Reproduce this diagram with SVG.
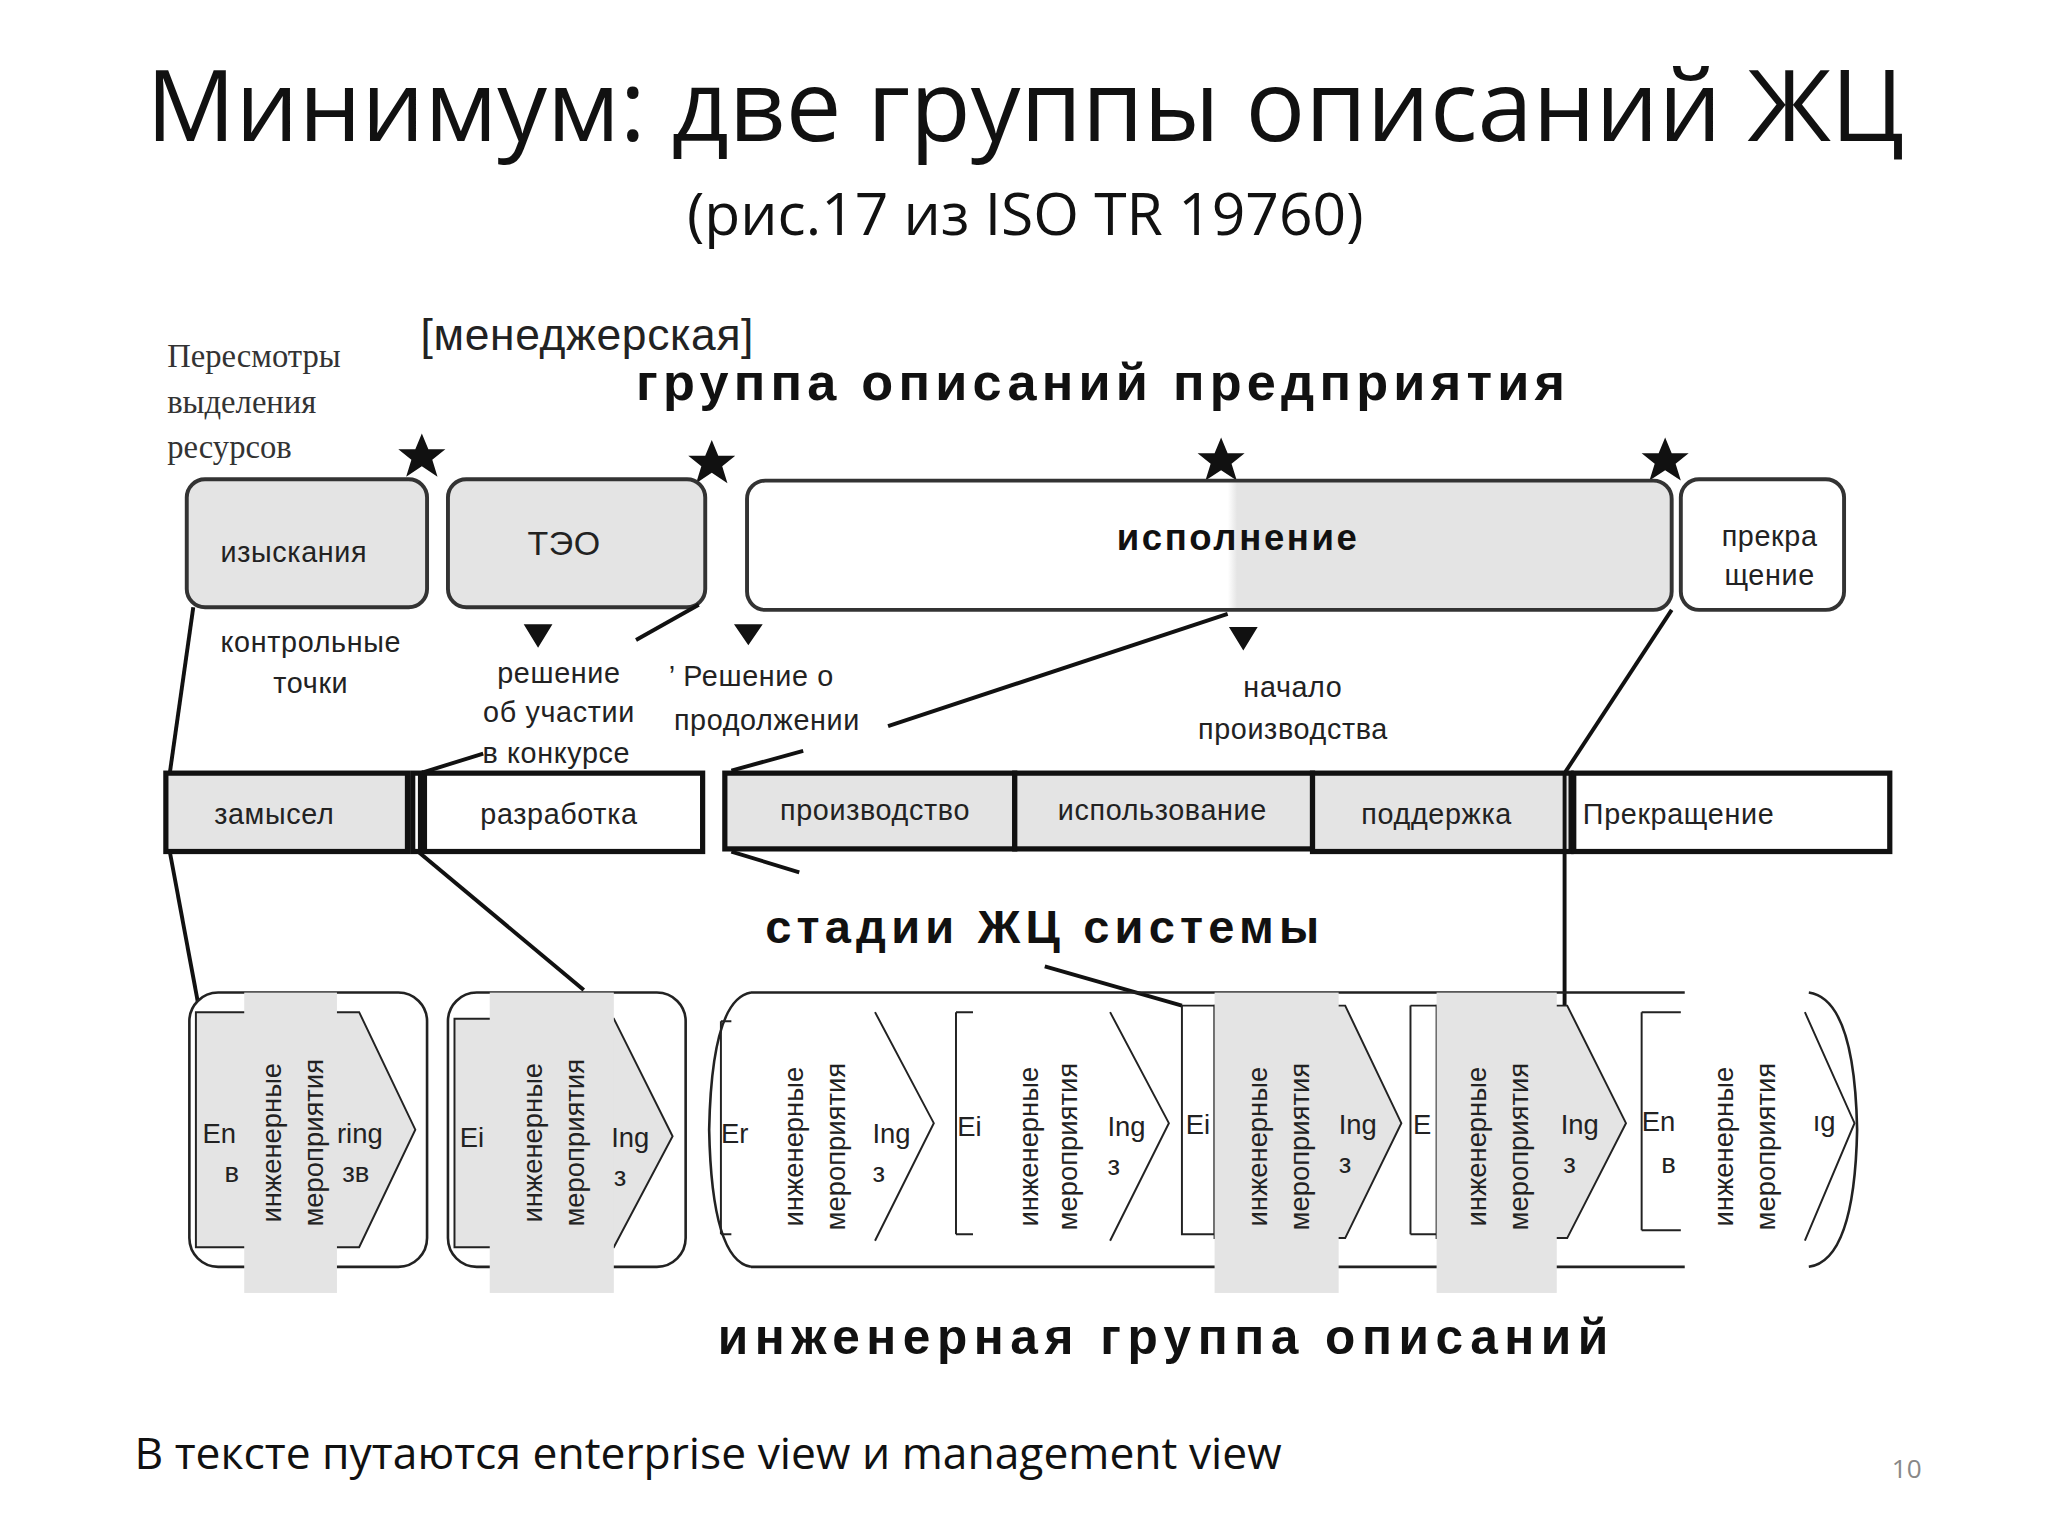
<svg xmlns="http://www.w3.org/2000/svg" width="2048" height="1536" viewBox="0 0 2048 1536">
<style>
.t{font-family:"Liberation Sans",Arial,sans-serif;fill:#222;letter-spacing:0.5px}
.b{font-family:"Liberation Sans",Arial,sans-serif;font-weight:bold;fill:#111}
.s{font-size:22px}
.box{stroke:#333;stroke-width:3}
.st{stroke:#111;stroke-width:4}
.ln{stroke:#111;stroke-width:3;fill:none}
.ch{stroke:#222;stroke-width:1.5}
.v{font-family:"Liberation Sans",Arial,sans-serif;font-size:21px;fill:#222}
</style>
<defs>
<path id="star" d="M0,-18 L5,-6 L18,-6 L8,2 L12,15 L0,7 L-12,15 L-8,2 L-18,-6 L-5,-6 Z" fill="#111"/>
<linearGradient id="g" x1="0" x2="1"><stop offset="0" stop-color="#fff"/><stop offset="0.52" stop-color="#fff"/><stop offset="0.53" stop-color="#e4e4e4"/><stop offset="1" stop-color="#e4e4e4"/></linearGradient>
</defs>
<rect width="2048" height="1536" fill="#fff"/>
<g transform="scale(1.306)">
<g id="title">
<text x="785" y="108" text-anchor="middle" font-family="Open Sans,Liberation Sans,sans-serif" font-size="76" fill="#111">Минимум: две группы описаний ЖЦ</text>
<text x="785" y="180" text-anchor="middle" font-family="Open Sans,Liberation Sans,sans-serif" font-size="45" fill="#111">(рис.17 из ISO TR 19760)</text>
</g>
<g id="headers">
<text class="t" x="322" y="268" font-size="34">[менеджерская]</text>
<text class="b" x="487" y="306" font-size="40" letter-spacing="4">группа описаний  предприятия</text>
<text x="128" y="281" font-family="Liberation Serif,serif" font-size="25" fill="#333">Пересмотры</text>
<text x="128" y="316" font-family="Liberation Serif,serif" font-size="25" fill="#333">выделения</text>
<text x="128" y="351" font-family="Liberation Serif,serif" font-size="25" fill="#333">ресурсов</text>
<use href="#star" x="323" y="350"/><use href="#star" x="545" y="355"/><use href="#star" x="935" y="353"/><use href="#star" x="1275" y="353"/>
</g>
<g id="n-izysk"><rect class="box" x="143" y="367" width="184" height="98" rx="14" fill="#e4e4e4"/><text class="t s" x="225" y="430" text-anchor="middle">изыскания</text></g>
<g id="n-teo"><rect class="box" x="343" y="367" width="197" height="98" rx="14" fill="#e4e4e4"/><text class="t" x="432" y="425" font-size="26" text-anchor="middle">ТЭО</text></g>
<g id="n-isp"><rect class="box" x="572" y="368" width="708" height="99" rx="14" fill="url(#g)"/><text class="b" x="948" y="421" font-size="28" letter-spacing="2" text-anchor="middle">исполнение</text></g>
<g id="n-prek"><rect class="box" x="1287" y="367" width="125" height="100" rx="14" fill="#fff"/><text class="t s" x="1355" y="418" text-anchor="middle">прекра</text><text class="t s" x="1355" y="448" text-anchor="middle">щение</text></g>
<g id="labels">
<text class="t s" x="238" y="499" text-anchor="middle">контрольные</text>
<text class="t s" x="238" y="531" text-anchor="middle">точки</text>
<path d="M401,478 L423,478 L412,496 Z M562,478 L584,478 L573,494 Z M941,480 L963,480 L952,498 Z" fill="#111"/>
<text class="t s" x="428" y="523" text-anchor="middle">решение</text>
<text class="t s" x="428" y="553" text-anchor="middle">об участии</text>
<text class="t s" x="426" y="584" text-anchor="middle">в конкурсе</text>
<text class="t s" x="512" y="525">’ Решение о</text>
<text class="t s" x="516" y="559">продолжении</text>
<text class="t s" x="990" y="534" text-anchor="middle">начало</text>
<text class="t s" x="990" y="566" text-anchor="middle">производства</text>
<text class="b" x="800" y="722" font-size="36" letter-spacing="4" text-anchor="middle">стадии ЖЦ системы</text>
<text class="b" x="893" y="1037" font-size="38" letter-spacing="5" text-anchor="middle">инженерная группа описаний</text>
</g>
<g id="stages">
<rect class="st" x="127" y="592" width="185" height="60" fill="#e4e4e4"/>
<rect class="st" x="316" y="592" width="6" height="60" fill="#fff"/>
<rect class="st" x="325" y="592" width="213" height="60" fill="#fff"/>
<rect class="st" x="555" y="592" width="222" height="58" fill="#e4e4e4"/>
<rect class="st" x="777" y="592" width="228" height="58" fill="#e4e4e4"/>
<rect class="st" x="1005" y="592" width="198" height="60" fill="#e4e4e4"/>
<rect class="st" x="1205" y="592" width="242" height="60" fill="#fff"/>
<text class="t s" x="210" y="631" text-anchor="middle">замысел</text>
<text class="t s" x="428" y="631" text-anchor="middle">разработка</text>
<text class="t s" x="670" y="628" text-anchor="middle">производство</text>
<text class="t s" x="890" y="628" text-anchor="middle">использование</text>
<text class="t s" x="1100" y="631" text-anchor="middle">поддержка</text>
<text class="t s" x="1212" y="631">Прекращение</text>
</g>
<g id="connectors">
<path class="ln" d="M535,463 L487,490"/>
<path class="ln" d="M680,556 L940,470"/>
<path class="ln" d="M615,575 L560,590"/>
<path class="ln" d="M370,577 L322,592"/>
<path class="ln" d="M1280,467 L1198,592"/>
<path class="ln" d="M1198,592 L1198,770"/>
<path class="ln" d="M148,465 L130,592"/>
<path class="ln" d="M130,652 L152,770"/>
<path class="ln" d="M320,652 L447,758"/>
<path class="ln" d="M560,652 L612,668"/>
<path class="ln" d="M800,740 L905,770"/>
</g>
<g id="eng">
<rect x="145" y="760" width="182" height="210" rx="22" fill="#fff" stroke="#222" stroke-width="2"/>
<rect x="343" y="760" width="182" height="210" rx="22" fill="#fff" stroke="#222" stroke-width="2"/>
<path d="M575,760 Q545,765 543,865 Q545,965 575,970 M1385,760 Q1420,765 1422,865 Q1420,965 1385,970" fill="none" stroke="#222" stroke-width="2"/>
<path d="M575,760 H1290 M575,970 H1290" stroke="#222" stroke-width="2"/>
<g class="ch">
<path d="M150,775 H275 L318,865 L275,955 H150 Z" fill="#e4e4e4"/>
<path d="M348,780 H470 L515,870 L470,955 H348 Z" fill="#e4e4e4"/>
<path d="M552,782 V945 M552,782 H560 M552,945 H560 M670,775 L715,860 L670,950" fill="none"/>
<path d="M732,775 V945 M732,775 H745 M732,945 H745 M850,775 L895,860 L850,950" fill="none"/>
<path d="M905,770 V945 H930 V770 Z" fill="#fff"/>
<path d="M930,770 H1030 L1073,860 L1030,948 H930 Z" fill="#e4e4e4"/>
<path d="M1080,770 V945 M1080,770 H1100 M1080,945 H1100" fill="none"/>
<path d="M1100,770 H1200 L1245,860 L1200,948 H1100 Z" fill="#e4e4e4"/>
<path d="M1257,775 V942 M1257,775 H1287 M1257,942 H1287 M1382,775 L1420,860 L1382,950" fill="none"/>
</g>
<g fill="#e4e4e4">
<rect x="187" y="760" width="71" height="230"/><rect x="375" y="760" width="95" height="230"/>
<rect x="930" y="760" width="95" height="230"/><rect x="1100" y="760" width="92" height="230"/>
</g>
<g class="v">
<text x="155" y="875">En</text><text x="172" y="905">в</text><text x="258" y="875">ring</text><text x="262" y="905">зв</text>
<text x="352" y="878">Ei</text><text x="468" y="878">Ing</text><text x="470" y="908">з</text>
<text x="552" y="875">Er</text><text x="668" y="875">Ing</text><text x="668" y="905">з</text>
<text x="733" y="870">Ei</text><text x="848" y="870">Ing</text><text x="848" y="900">з</text>
<text x="908" y="868">Ei</text><text x="1025" y="868">Ing</text><text x="1025" y="898">з</text>
<text x="1082" y="868">E</text><text x="1195" y="868">Ing</text><text x="1197" y="898">з</text>
<text x="1257" y="866">En</text><text x="1272" y="898">в</text><text x="1388" y="866">ıg</text>
</g>
<g class="v" text-anchor="middle">
<text transform="translate(215,875) rotate(-90)">инженерные</text><text transform="translate(247,875) rotate(-90)">мероприятия</text>
<text transform="translate(415,875) rotate(-90)">инженерные</text><text transform="translate(447,875) rotate(-90)">мероприятия</text>
<text transform="translate(615,878) rotate(-90)">инженерные</text><text transform="translate(647,878) rotate(-90)">мероприятия</text>
<text transform="translate(795,878) rotate(-90)">инженерные</text><text transform="translate(825,878) rotate(-90)">мероприятия</text>
<text transform="translate(970,878) rotate(-90)">инженерные</text><text transform="translate(1002,878) rotate(-90)">мероприятия</text>
<text transform="translate(1138,878) rotate(-90)">инженерные</text><text transform="translate(1170,878) rotate(-90)">мероприятия</text>
<text transform="translate(1327,878) rotate(-90)">инженерные</text><text transform="translate(1359,878) rotate(-90)">мероприятия</text>
</g>
</g>
<g id="footer">
<text x="103" y="1125" font-family="Open Sans,Liberation Sans,sans-serif" font-size="34" fill="#111">В тексте путаются enterprise view и management view</text>
<text x="1460" y="1132" font-family="Open Sans,Liberation Sans,sans-serif" font-size="20" fill="#888" text-anchor="middle">10</text>
</g>
</g>
</svg>
